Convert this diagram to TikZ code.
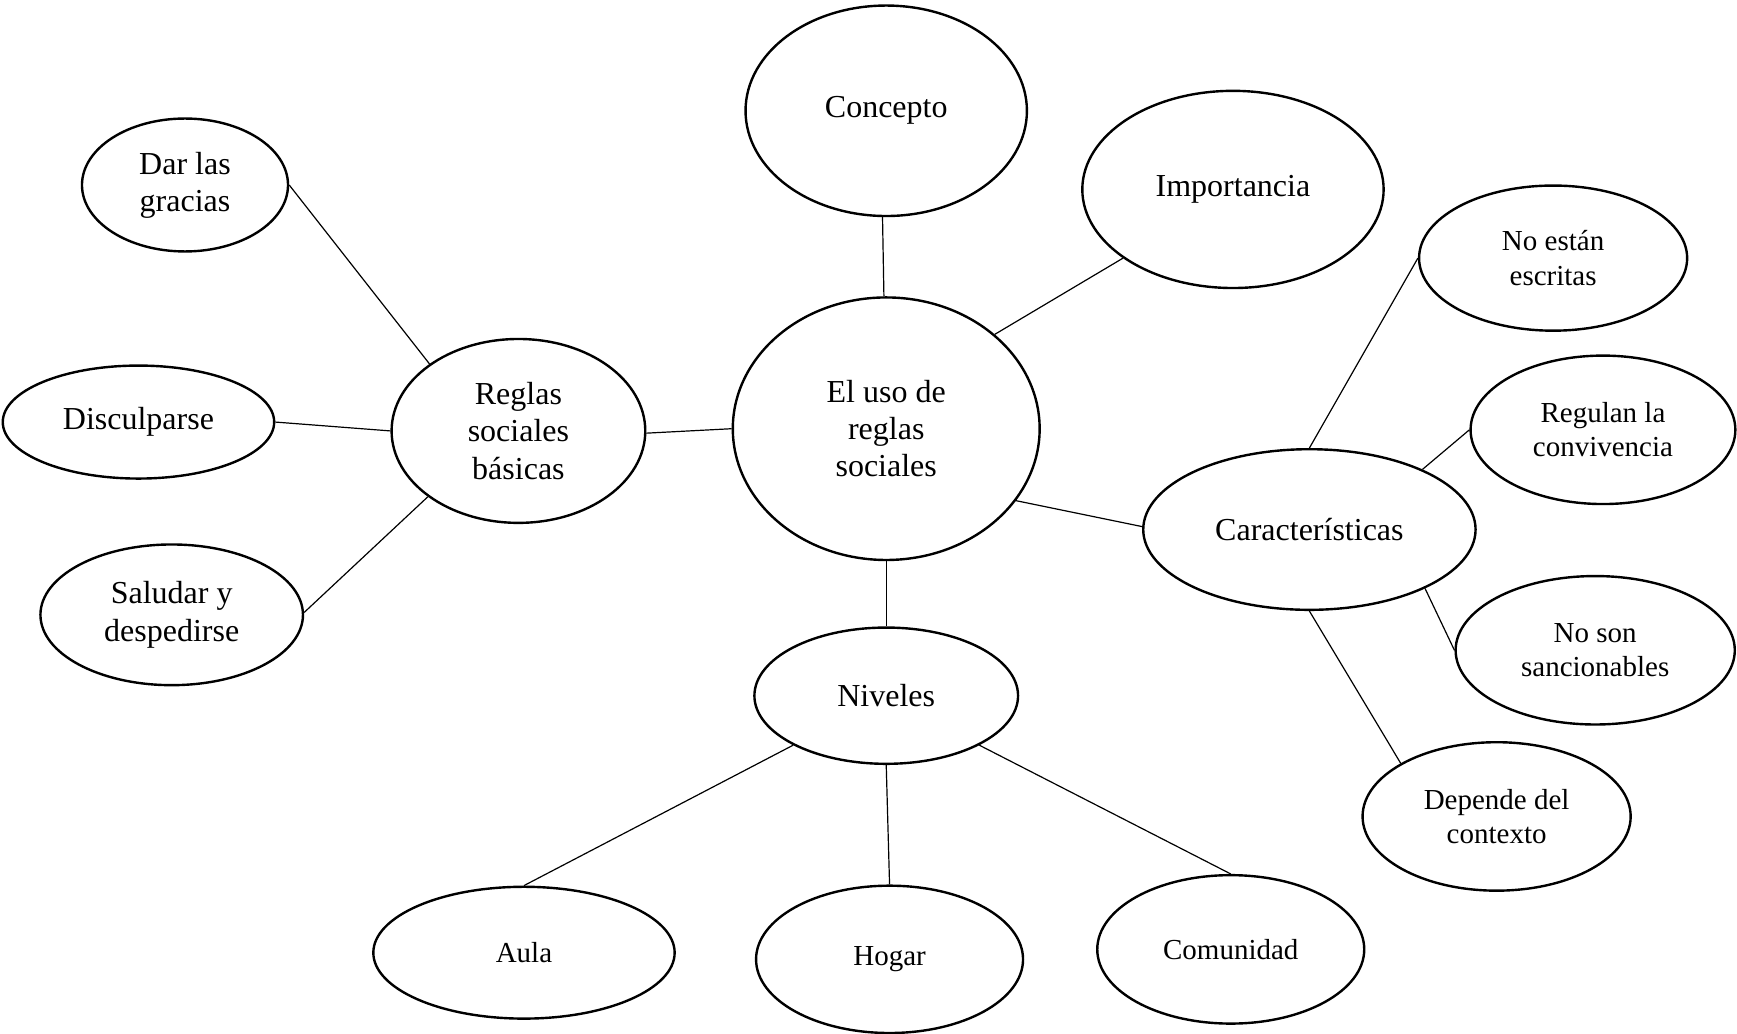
\documentclass[tikz,border=0pt]{standalone}
\usepackage{fontspec}
\setmainfont{Liberation Serif}
\usetikzlibrary{shapes.geometric}
\tikzset{
  burbuja/.style={ellipse,draw,line width=1.2pt,inner sep=0pt,align=center,
                  font=\fontsize{16}{18.6}\selectfont},
  chica/.style={burbuja,font=\fontsize{14.5}{17.2}\selectfont},
  tam/.style 2 args={minimum width=#1*0.5539pt,minimum height=#2*0.5539pt},
  enlace/.style={line width=0.6pt},
}
\begin{document}
\begin{tikzpicture}[x=0.5539pt,y=-0.5539pt]
  \useasboundingbox (0,0) rectangle (1568,933);
  % centro y ramas
  \node[burbuja,tam={277}{237}] (c) at (800,387) {El uso de\\reglas\\sociales};
  \node[burbuja,tam={254}{190}] (con) at (800,100) {Concepto};
  \node[burbuja,tam={272}{178}] (imp) at (1113,171) {Importancia};
  \node[burbuja,tam={229}{166}] (rsb) at (468,389) {Reglas\\sociales\\básicas};
  \node[burbuja,tam={300}{145}] (car) at (1182,478) {Características};
  \node[burbuja,tam={238}{123}] (niv) at (800,628) {Niveles};
  % reglas sociales basicas
  \node[burbuja,tam={186}{120}] (dar) at (167,167) {Dar las\\gracias};
  \node[burbuja,tam={245}{102}] (dis) at (125,381) {Disculparse};
  \node[burbuja,tam={237}{127}] (sal) at (155,555) {Saludar y\\despedirse};
  % caracteristicas
  \node[chica,tam={242}{131}] (ne) at (1402,233) {No están\\escritas};
  \node[chica,tam={239}{134}] (reg) at (1447,388) {Regulan la\\convivencia};
  \node[chica,tam={252}{134}] (ns) at (1440,587) {No son\\sancionables};
  \node[chica,tam={242}{134}] (dep) at (1351,737) {Depende del\\contexto};
  % niveles
  \node[chica,tam={272}{119}] (aul) at (473,860) {Aula};
  \node[chica,tam={241}{133}] (hog) at (803,866) {Hogar};
  \node[chica,tam={241}{134}] (com) at (1111,857) {Comunidad};

  \draw[enlace] (con.268) -- (c.91);
  \draw[enlace] (imp.212) -- (c.41);
  \draw[enlace] (rsb.359) -- (c.180);
  \draw[enlace] (c.331) -- (car.179);
  \draw[enlace] (c.270) -- (niv.90);
  \draw[enlace] (dar.0) -- (rsb.143);
  \draw[enlace] (dis.0) -- (rsb.180);
  \draw[enlace] (sal.1) -- (rsb.216);
  \draw[enlace] (car.90) -- (ne.180);
  \draw[enlace] (car.28) -- (reg.180);
  \draw[enlace] (car.333) -- (ns.180);
  \draw[enlace] (car.270) -- (dep.151);
  \draw[enlace] (niv.208) -- (aul.90);
  \draw[enlace] (niv.270) -- (hog.90);
  \draw[enlace] (niv.332) -- (com.90);
\end{tikzpicture}
\end{document}
